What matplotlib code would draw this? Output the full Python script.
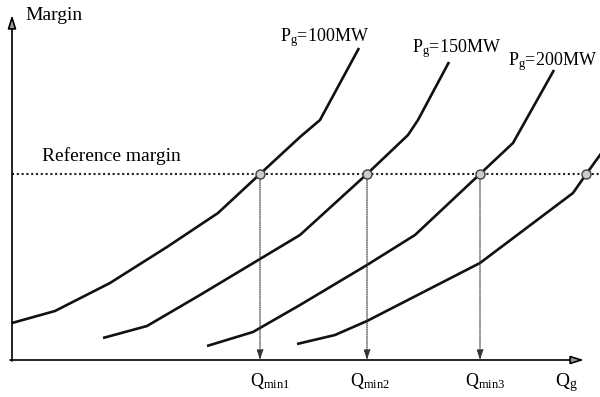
import matplotlib
matplotlib.use("Agg")
import matplotlib.pyplot as plt

plt.rcParams['font.family'] = ['Liberation Serif', 'DejaVu Serif']
plt.rcParams['mathtext.fontset'] = 'custom'
plt.rcParams['mathtext.rm'] = 'Liberation Serif'
plt.rcParams['mathtext.it'] = 'Liberation Serif'

# margin curves (x = Qg, y = margin, arbitrary units)
q_100 = [0, 43, 98, 155, 206, 248, 288, 308, 347]
m_100 = [37, 49, 77, 113, 147, 186, 223, 240, 312]
q_150 = [91, 135, 188, 248, 288, 355, 396, 406, 437]
m_150 = [22, 34, 65, 101, 125, 186, 225, 240, 298]
q_200 = [195, 241, 288, 355, 403, 468, 501, 542]
m_200 = [14, 28, 55, 95, 125, 186, 217, 290]
q_250 = [285, 323, 355, 468, 561, 575, 588, 600]
m_250 = [16, 25, 39, 97, 167, 187, 205, 222]

ref_margin = 186
q_min = [248, 355, 468]
q_cross = [248, 355, 468, 574]
q_min_labels = ['Q$_{\\mathrm{min1}}$', 'Q$_{\\mathrm{min2}}$', 'Q$_{\\mathrm{min3}}$']
pg_labels = ['P$_{\\mathrm{g}}$=100MW', 'P$_{\\mathrm{g}}$=150MW', 'P$_{\\mathrm{g}}$=200MW']

fig = plt.figure(figsize=(6, 3.97), dpi=100)
ax = fig.add_axes([0, 0, 1, 1])
ax.set_xlim(-12, 588)
ax.set_ylim(-37, 360)
ax.axis('off')

for qs, ms in [(q_100, m_100), (q_150, m_150), (q_200, m_200), (q_250, m_250)]:
    ax.plot(qs, ms, color='#111111', lw=1.9, solid_capstyle='butt')

# reference margin
ax.plot([0, 600], [ref_margin, ref_margin], color='#222222', lw=1.5,
        linestyle=(0, (1, 1.3)))
ax.plot(q_cross, [ref_margin] * len(q_cross), 'o', ms=6.5, mfc='0.8',
        mec='0.25', mew=1.0, zorder=5)

# drop lines to the axis
for q in q_min:
    ax.annotate('', xy=(q, 0), xytext=(q, ref_margin - 4),
                arrowprops=dict(arrowstyle='-|>,head_length=0.6,head_width=0.2',
                                color='#333333', lw=0.8, linestyle=(0, (1, 1)),
                                shrinkA=0, shrinkB=0))

# axes
ax.annotate('', xy=(0, 345), xytext=(0, -1),
            arrowprops=dict(arrowstyle='-|>,head_length=0.8,head_width=0.25',
                            fc='0.6', ec='black', lw=1.2, shrinkA=0, shrinkB=0))
ax.annotate('', xy=(572, 0), xytext=(-2, 0),
            arrowprops=dict(arrowstyle='-|>,head_length=0.8,head_width=0.25',
                            fc='0.6', ec='black', lw=1.2, shrinkA=0, shrinkB=0))

ax.text(13, 345, 'Margin', fontsize=14, va='center', ha='left')
ax.text(30, 204, 'Reference margin', fontsize=14, va='center', ha='left')

for x, y, lab in zip([268, 400, 496], [319, 308, 295], pg_labels):
    ax.text(x, y, lab, fontsize=13, ha='left', va='baseline')

for x, lab in zip([238, 338, 453], q_min_labels):
    ax.text(x, -26, lab, fontsize=13, ha='left', va='baseline')
ax.text(543, -26, 'Q$_{\\mathrm{g}}$', fontsize=14, ha='left', va='baseline')

fig.savefig('out.png', dpi=100)
